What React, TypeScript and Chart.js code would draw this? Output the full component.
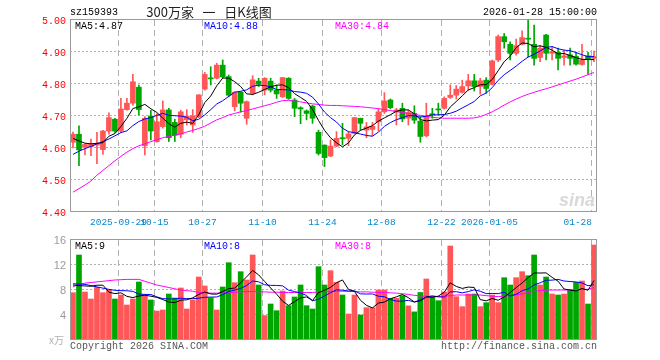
import React, { useEffect, useRef } from "react";
import { Chart, registerables } from "chart.js";

Chart.register(...registerables);

const dates = [
  "2025-09-17", "2025-09-18", "2025-09-19", "2025-09-22", "2025-09-23", "2025-09-24", "2025-09-25", "2025-09-26",
  "2025-09-29", "2025-09-30", "2025-10-09", "2025-10-10", "2025-10-13", "2025-10-14", "2025-10-15", "2025-10-16",
  "2025-10-17", "2025-10-20", "2025-10-21", "2025-10-22", "2025-10-23", "2025-10-24", "2025-10-27", "2025-10-28",
  "2025-10-29", "2025-10-30", "2025-10-31", "2025-11-03", "2025-11-04", "2025-11-05", "2025-11-06", "2025-11-07",
  "2025-11-10", "2025-11-11", "2025-11-12", "2025-11-13", "2025-11-14", "2025-11-17", "2025-11-18", "2025-11-19",
  "2025-11-20", "2025-11-21", "2025-11-24", "2025-11-25", "2025-11-26", "2025-11-27", "2025-11-28", "2025-12-01",
  "2025-12-02", "2025-12-03", "2025-12-04", "2025-12-05", "2025-12-08", "2025-12-09", "2025-12-10", "2025-12-11",
  "2025-12-12", "2025-12-15", "2025-12-16", "2025-12-17", "2025-12-18", "2025-12-19", "2025-12-22", "2025-12-23",
  "2025-12-24", "2025-12-25", "2025-12-26", "2025-12-29", "2025-12-30", "2025-12-31", "2026-01-05", "2026-01-06",
  "2026-01-07", "2026-01-08", "2026-01-09", "2026-01-12", "2026-01-13", "2026-01-14", "2026-01-15", "2026-01-16",
  "2026-01-19", "2026-01-20", "2026-01-21", "2026-01-22", "2026-01-23", "2026-01-26", "2026-01-27", "2026-01-28",
];

const opens = [
  4.618, 4.643, 4.604, 4.604, 4.609, 4.595, 4.653, 4.690, 4.653, 4.720,
  4.740, 4.790, 4.607, 4.700, 4.620, 4.667, 4.719, 4.680, 4.643, 4.688,
  4.672, 4.698, 4.784, 4.818, 4.818, 4.859, 4.823, 4.729, 4.774, 4.693,
  4.771, 4.809, 4.781, 4.809, 4.781, 4.760, 4.818, 4.750, 4.726, 4.716,
  4.731, 4.649, 4.609, 4.575, 4.606, 4.632, 4.630, 4.646, 4.693, 4.656,
  4.658, 4.682, 4.713, 4.750, 4.713, 4.724, 4.693, 4.708, 4.684, 4.638,
  4.706, 4.720, 4.724, 4.758, 4.765, 4.774, 4.794, 4.810, 4.792, 4.812,
  4.799, 4.875, 4.948, 4.924, 4.896, 4.924, 4.941, 4.924, 4.883, 4.953,
  4.896, 4.899, 4.883, 4.891, 4.886, 4.861, 4.888, 4.880,
];
const highs = [
  4.650, 4.669, 4.613, 4.628, 4.649, 4.655, 4.710, 4.693, 4.755, 4.755,
  4.830, 4.797, 4.698, 4.718, 4.707, 4.747, 4.724, 4.690, 4.718, 4.720,
  4.720, 4.767, 4.836, 4.854, 4.865, 4.875, 4.828, 4.776, 4.776, 4.747,
  4.826, 4.818, 4.820, 4.818, 4.797, 4.821, 4.820, 4.755, 4.729, 4.719,
  4.734, 4.656, 4.610, 4.625, 4.651, 4.677, 4.651, 4.695, 4.693, 4.680,
  4.680, 4.722, 4.773, 4.753, 4.724, 4.740, 4.719, 4.732, 4.698, 4.740,
  4.724, 4.740, 4.760, 4.797, 4.795, 4.812, 4.830, 4.830, 4.818, 4.820,
  4.875, 4.953, 4.958, 4.932, 4.940, 4.966, 5.000, 4.984, 4.920, 4.955,
  4.917, 4.912, 4.906, 4.912, 4.899, 4.924, 4.899, 4.903,
];
const lows = [
  4.600, 4.545, 4.578, 4.576, 4.551, 4.580, 4.643, 4.649, 4.649, 4.718,
  4.734, 4.703, 4.578, 4.625, 4.618, 4.662, 4.620, 4.620, 4.632, 4.672,
  4.649, 4.695, 4.781, 4.797, 4.816, 4.820, 4.760, 4.716, 4.712, 4.674,
  4.766, 4.792, 4.766, 4.775, 4.755, 4.757, 4.752, 4.698, 4.676, 4.688,
  4.677, 4.578, 4.542, 4.573, 4.604, 4.610, 4.607, 4.644, 4.656, 4.632,
  4.638, 4.653, 4.708, 4.722, 4.672, 4.682, 4.672, 4.677, 4.618, 4.635,
  4.693, 4.703, 4.722, 4.755, 4.753, 4.771, 4.781, 4.778, 4.768, 4.771,
  4.797, 4.870, 4.912, 4.875, 4.890, 4.922, 4.885, 4.859, 4.870, 4.875,
  4.875, 4.844, 4.859, 4.859, 4.859, 4.859, 4.830, 4.870,
];
const closes = [
  4.643, 4.594, 4.611, 4.612, 4.613, 4.653, 4.695, 4.653, 4.722, 4.740,
  4.807, 4.720, 4.693, 4.653, 4.682, 4.719, 4.632, 4.640, 4.713, 4.700,
  4.700, 4.766, 4.830, 4.816, 4.859, 4.822, 4.765, 4.774, 4.740, 4.745,
  4.813, 4.799, 4.818, 4.781, 4.769, 4.820, 4.755, 4.724, 4.722, 4.708,
  4.693, 4.583, 4.570, 4.606, 4.630, 4.629, 4.644, 4.695, 4.677, 4.666,
  4.668, 4.713, 4.747, 4.726, 4.719, 4.691, 4.711, 4.687, 4.636, 4.698,
  4.704, 4.719, 4.755, 4.765, 4.784, 4.792, 4.810, 4.792, 4.810, 4.786,
  4.872, 4.948, 4.932, 4.896, 4.920, 4.945, 4.940, 4.880, 4.912, 4.896,
  4.901, 4.880, 4.888, 4.880, 4.862, 4.875, 4.878, 4.886,
];

// volume in 万
const volumes = [
  7.57, 13.6, 7.68, 6.56, 8.43, 7.57, 8.0, 6.56, 7.2, 5.6,
  6.56, 9.28, 7.2, 6.4, 4.64, 4.8, 7.36, 6.72, 8.32, 4.96,
  6.4, 10.08, 8.64, 6.75, 4.8, 8.48, 12.37, 9.17, 10.93, 9.6,
  13.6, 8.8, 3.9, 5.76, 4.69, 7.84, 5.49, 6.88, 8.8, 5.49,
  4.96, 11.73, 8.8, 11.09, 9.23, 7.2, 4.16, 7.2, 4.0, 5.17,
  5.17, 8.0, 8.0, 6.67, 6.67, 7.1, 5.46, 4.5, 7.6, 9.76,
  6.93, 6.29, 7.68, 15.04, 6.93, 5.33, 7.36, 7.36, 5.33, 5.97,
  7.2, 5.97, 9.97, 8.8, 9.97, 10.93, 10.29, 13.6, 8.8, 10.08,
  7.36, 7.2, 7.36, 8.0, 9.23, 9.44, 5.76, 15.2,
];

// moving-average values before a full window is available
const ma5Lead = [4.630, 4.622, 4.615, 4.613];
const ma10Lead = [4.580, 4.590, 4.598, 4.605, 4.613, 4.620, 4.628, 4.638, 4.648];
const ma30 = [
  4.462, 4.473, 4.484, 4.497, 4.515, 4.530, 4.545, 4.560, 4.574, 4.587,
  4.598, 4.607, 4.613, 4.620, 4.626, 4.632, 4.636, 4.640, 4.644, 4.650,
  4.655, 4.661, 4.668, 4.678, 4.688, 4.695, 4.703, 4.708, 4.713, 4.717,
  4.722, 4.727, 4.732, 4.737, 4.743, 4.748, 4.749, 4.747, 4.744, 4.741,
  4.738, 4.736, 4.734, 4.733, 4.733, 4.732, 4.731, 4.730, 4.729, 4.727,
  4.725, 4.723, 4.720, 4.717, 4.714, 4.711, 4.708, 4.705, 4.702, 4.699,
  4.696, 4.694, 4.693, 4.693, 4.693, 4.693, 4.693, 4.694, 4.698, 4.705,
  4.713, 4.723, 4.734, 4.744, 4.753, 4.761, 4.768, 4.774, 4.780, 4.785,
  4.791, 4.797, 4.803, 4.809, 4.815, 4.822, 4.829, 4.836,
];
const volMa5Lead = [8.8, 8.7, 8.65, 8.6];
const volMa10Lead = [9.0, 8.95, 8.9, 8.7, 8.5, 8.3, 8.1, 7.95, 7.9];
const volMa30 = [
  8.5, 8.9, 9.1, 9.2, 9.3, 9.4, 9.5, 9.6, 9.65, 9.7,
  9.7, 9.7, 9.4, 9.1, 8.8, 8.6, 8.4, 8.2, 8.0, 7.9,
  7.8, 7.6, 7.55, 7.5, 7.5, 7.55, 7.6, 7.65, 7.7, 7.75,
  7.75, 7.7, 7.7, 7.65, 7.65, 7.6, 7.6, 7.6, 7.6, 7.6,
  7.6, 7.7, 7.75, 7.8, 7.8, 7.8, 7.8, 7.75, 7.7, 7.7,
  7.65, 7.6, 7.6, 7.55, 7.5, 7.4, 7.3, 7.15, 7.05, 7.0,
  6.95, 6.95, 7.0, 7.1, 7.2, 7.2, 7.2, 7.2, 7.2, 7.1,
  7.0, 6.95, 7.0, 7.1, 7.2, 7.4, 7.6, 7.8, 7.9, 7.95,
  8.0, 8.0, 8.0, 8.0, 8.05, 8.1, 8.1, 8.4,
];

const priceTicks = [4.4, 4.5, 4.6, 4.7, 4.8, 4.9, 5.0];
const volTicks = [4, 8, 12, 16];
const tickDates = ["2025-09-29", "2025-10-15", "2025-10-27", "2025-11-10", "2025-11-24", "2025-12-08", "2025-12-22", "2026-01-05", "2026-01-28"];
const tickTexts = ["2025-09-29", "10-15", "10-27", "11-10", "11-24", "12-08", "12-22", "2026-01-05", "01-28"];

const symbolText = "sz159393";
const titleText = "300万家   一   日K线图";
const timeText = "2026-01-28 15:00:00";
const priceMaTexts = ["MA5:4.87", "MA10:4.88", "MA30:4.84"];
const volMaTexts = ["MA5:9", "MA10:8", "MA30:8"];
const volUnitText = "x万";
const copyrightText = "Copyright 2026 SINA.COM";
const urlText = "http://finance.sina.com.cn";

const RED = "#ff5757";
const GREEN = "#00a600";
const MA_COLORS = ["#000000", "#0000ff", "#ff00ff"];
const MONO = '"Liberation Mono", "DejaVu Sans Mono", monospace';

function movingAverage(values: number[], n: number, lead: number[]): number[] {
  return values.map((_, i) => {
    if (i < n - 1) return lead[i];
    let s = 0;
    for (let k = i - n + 1; k <= i; k++) s += values[k];
    return s / n;
  });
}

const candleColors = closes.map((c, i) => (c >= opens[i] ? RED : GREEN));

function slotWidth(xs: any) {
  return xs.getPixelForValue(1) - xs.getPixelForValue(0);
}

function gridX(xs: any, d: string) {
  const idx = dates.indexOf(d);
  return Math.round(xs.getPixelForValue(idx) - slotWidth(xs) / 2) + 0.5;
}

function drawGrid(chart: any, hTicks: number[], min: number, max: number) {
  const { ctx, chartArea: a, scales } = chart;
  const xs = scales.x;
  const ys = scales.y;
  ctx.save();
  ctx.strokeStyle = "#b0b0b0";
  ctx.lineWidth = 1;
  ctx.setLineDash([2, 2]);
  hTicks.forEach((v) => {
    if (v <= min || v >= max) return;
    const py = Math.round(ys.getPixelForValue(v)) - 0.5;
    ctx.beginPath();
    ctx.moveTo(a.left, py);
    ctx.lineTo(a.right, py);
    ctx.stroke();
  });
  ctx.setLineDash([6, 4]);
  tickDates.forEach((d) => {
    const px = gridX(xs, d);
    ctx.beginPath();
    ctx.moveTo(px, a.top);
    ctx.lineTo(px, a.bottom);
    ctx.stroke();
  });
  ctx.restore();
}

function drawFrame(chart: any) {
  const { ctx, chartArea: a } = chart;
  ctx.save();
  ctx.strokeStyle = "#9a9a9a";
  ctx.lineWidth = 1;
  ctx.setLineDash([]);
  ctx.strokeRect(a.left + 0.5, a.top - 0.5, a.right - a.left - 1, a.bottom - a.top);
  ctx.restore();
}

function drawMaTexts(ctx: any, texts: string[], y: number) {
  const xsPos = [75, 204, 335];
  ctx.font = `10px ${MONO}`;
  ctx.textAlign = "left";
  ctx.textBaseline = "middle";
  texts.forEach((t, k) => {
    ctx.fillStyle = MA_COLORS[k];
    ctx.fillText(t, xsPos[k], y);
  });
}

const pricePlugin = {
  id: "priceDecor",
  beforeDatasetsDraw(chart: any) {
    drawGrid(chart, priceTicks, 4.4, 5.0);
  },
  afterDraw(chart: any) {
    const { ctx, chartArea: a, scales } = chart;
    const xs = scales.x;
    const ys = scales.y;
    drawFrame(chart);
    ctx.save();
    // watermark
    ctx.font = 'bold italic 18px "Liberation Sans", sans-serif';
    ctx.fillStyle = "#d9d9d9";
    ctx.textAlign = "right";
    ctx.textBaseline = "alphabetic";
    ctx.fillText("sina", a.right - 2, a.bottom - 6);
    // y labels
    ctx.font = `10px ${MONO}`;
    ctx.fillStyle = "#ff0000";
    ctx.textAlign = "right";
    ctx.textBaseline = "middle";
    priceTicks.forEach((v) => ctx.fillText(v.toFixed(2), 66, ys.getPixelForValue(v) + 1.5));
    // x labels
    ctx.font = `9.5px ${MONO}`;
    ctx.fillStyle = "#0a88cc";
    ctx.textAlign = "center";
    tickDates.forEach((d, k) => {
      const t = tickTexts[k];
      const w = ctx.measureText(t).width;
      let cx = gridX(xs, d);
      if (cx + w / 2 > a.right - 5) cx = a.right - 5 - w / 2;
      ctx.fillText(t, cx, a.bottom + 10);
    });
    // header
    ctx.font = `10px ${MONO}`;
    ctx.fillStyle = "#000000";
    ctx.textAlign = "left";
    ctx.fillText(symbolText, a.left, 12.5);
    ctx.textAlign = "right";
    ctx.fillText(timeText, a.right, 12.5);
    ctx.font = '13px "Noto Sans CJK SC", sans-serif';
    ctx.fillStyle = "#222222";
    ctx.textAlign = "center";
    ctx.fillText(titleText, 209, 12);
    drawMaTexts(ctx, priceMaTexts, a.top + 6.5);
    ctx.restore();
  },
};

const volPlugin = {
  id: "volDecor",
  beforeDatasetsDraw(chart: any) {
    drawGrid(chart, volTicks, 0, 16);
  },
  afterDraw(chart: any) {
    const { ctx, chartArea: a, scales } = chart;
    const ys = scales.y;
    drawFrame(chart);
    ctx.save();
    ctx.font = '11px "Liberation Sans", sans-serif';
    ctx.fillStyle = "#9a9a9a";
    ctx.textAlign = "right";
    ctx.textBaseline = "middle";
    volTicks.forEach((v) => ctx.fillText(String(v), 66, ys.getPixelForValue(v) + 1));
    ctx.font = '10px "Noto Sans CJK SC", sans-serif';
    ctx.fillStyle = "#b0b0b0";
    ctx.fillText(volUnitText, 64, a.bottom);
    drawMaTexts(ctx, volMaTexts, a.top + 6.5);
    ctx.font = `10px ${MONO}`;
    ctx.fillStyle = "#555555";
    ctx.textAlign = "left";
    ctx.fillText(copyrightText, a.left, a.bottom + 6.5);
    ctx.textAlign = "right";
    ctx.fillText(urlText, a.right, a.bottom + 6.5);
    ctx.restore();
  },
};

function lineDs(label: string, data: number[], color: string) {
  return {
    type: "line" as const,
    label,
    data,
    borderColor: color,
    backgroundColor: color,
    borderWidth: 1,
    pointRadius: 0,
    tension: 0,
    order: 0,
  };
}

export default function App() {
  const priceRef = useRef<HTMLCanvasElement>(null);
  const volRef = useRef<HTMLCanvasElement>(null);

  useEffect(() => {
    const ma5 = movingAverage(closes, 5, ma5Lead);
    const ma10 = movingAverage(closes, 10, ma10Lead);
    const vma5 = movingAverage(volumes, 5, volMa5Lead);
    const vma10 = movingAverage(volumes, 10, volMa10Lead);

    const common: any = {
      animation: false,
      responsive: false,
      maintainAspectRatio: false,
      events: [],
      plugins: { legend: { display: false }, tooltip: { enabled: false } },
    };

    const pc = new Chart(priceRef.current as HTMLCanvasElement, {
      type: "bar",
      data: {
        labels: dates,
        datasets: [
          lineDs("MA5", ma5, MA_COLORS[0]),
          lineDs("MA10", ma10, MA_COLORS[1]),
          lineDs("MA30", ma30, MA_COLORS[2]),
          {
            type: "bar",
            label: "wick",
            data: lows.map((l, i) => [l, highs[i]]),
            backgroundColor: candleColors,
            barThickness: 1,
            grouped: false,
            minBarLength: 1,
            order: 2,
          } as any,
          {
            type: "bar",
            label: "body",
            data: opens.map((o, i) => [o, closes[i]]),
            backgroundColor: candleColors,
            barThickness: 5,
            grouped: false,
            minBarLength: 1,
            order: 1,
          } as any,
        ],
      },
      options: {
        ...common,
        layout: { padding: { left: 70, right: 63, top: 20, bottom: 18 } },
        scales: {
          x: { display: false, offset: true },
          y: { display: false, min: 4.4, max: 5.0 },
        },
      },
      plugins: [pricePlugin],
    } as any);

    const vc = new Chart(volRef.current as HTMLCanvasElement, {
      type: "bar",
      data: {
        labels: dates,
        datasets: [
          lineDs("MA5", vma5, MA_COLORS[0]),
          lineDs("MA10", vma10, MA_COLORS[1]),
          lineDs("MA30", volMa30, MA_COLORS[2]),
          {
            type: "bar",
            label: "volume",
            data: volumes,
            backgroundColor: candleColors,
            barThickness: 5,
            order: 1,
          } as any,
        ],
      },
      options: {
        ...common,
        layout: { padding: { left: 70, right: 63, top: 10, bottom: 20 } },
        scales: {
          x: { display: false, offset: true },
          y: { display: false, min: 0, max: 16 },
        },
      },
      plugins: [volPlugin],
    } as any);

    return () => {
      pc.destroy();
      vc.destroy();
    };
  }, []);

  return (
    <div style={{ position: "absolute", left: 0, top: 0, width: 660, height: 360, background: "#ffffff" }}>
      <canvas ref={priceRef} width={660} height={230} style={{ position: "absolute", left: 0, top: 0, width: 660, height: 230 }} />
      <canvas ref={volRef} width={660} height={130} style={{ position: "absolute", left: 0, top: 230, width: 660, height: 130 }} />
    </div>
  );
}
